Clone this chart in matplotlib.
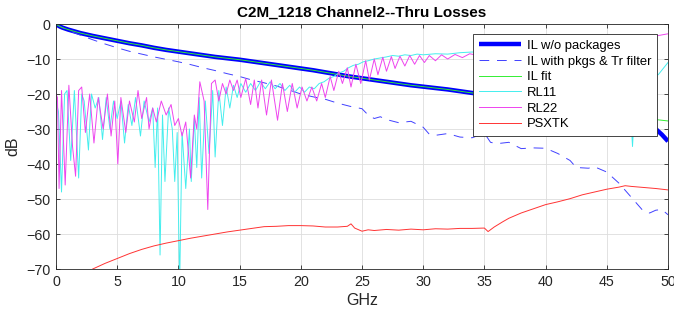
import matplotlib
matplotlib.use("Agg")
import matplotlib.pyplot as plt
import numpy as np

plt.rcParams['font.family'] = ['Liberation Sans', 'DejaVu Sans']

# ---------------- data ----------------
il_f = [0, 0.25, 0.5, 1, 2, 3, 4, 5, 6, 7, 8, 9, 10, 11, 12, 13, 14, 15, 16, 17, 18, 19,
        20, 21, 22, 23, 24, 25, 26, 27, 28, 29, 30, 31, 32, 33, 34, 35, 36, 37, 38, 39,
        40, 41, 42, 43, 44, 45, 46, 47, 48, 49, 49.5, 50]
il_db = [0, -0.6, -1.0, -1.6, -2.6, -3.4, -4.1, -4.8, -5.5, -6.1, -6.8, -7.4, -7.9, -8.4,
         -8.9, -9.4, -9.8, -10.2, -10.7, -11.2, -11.7, -12.2, -12.7, -13.2, -13.8, -14.4,
         -15.0, -15.5, -16.0, -16.5, -17.0, -17.5, -17.9, -18.3, -18.7, -19.2, -19.7, -20.1,
         -20.6, -21.1, -21.6, -22.1, -22.6, -23.1, -23.6, -24.1, -24.6, -25.2, -25.8, -26.6,
         -27.8, -30.0, -31.6, -33.5]

ilfit_f = [0, 0.25, 0.5, 1, 2, 3, 4, 5, 6, 7, 8, 9, 10, 11, 12, 13, 14, 15, 16, 17, 18, 19,
           20, 21, 22, 23, 24, 25, 26, 27, 28, 29, 30, 31, 32, 33, 34, 35, 36, 37, 38, 39,
           40, 41, 42, 43, 44, 45, 46, 47, 48, 49, 50]
ilfit_db = [0, -0.6, -1.0, -1.6, -2.6, -3.4, -4.1, -4.8, -5.5, -6.1, -6.8, -7.4, -7.9, -8.4,
            -8.9, -9.4, -9.8, -10.2, -10.7, -11.2, -11.7, -12.2, -12.7, -13.2, -13.8, -14.4,
            -15.0, -15.5, -16.0, -16.5, -17.0, -17.5, -17.9, -18.3, -18.7, -19.2, -19.7, -20.1,
            -20.6, -21.1, -21.6, -22.1, -22.6, -23.1, -23.6, -24.1, -24.6, -25.2, -25.8, -26.4,
            -26.9, -27.3, -27.7]

pkg_f = [0, 0.5, 1, 2, 3, 4, 5, 6, 7, 8, 9, 10, 11, 12, 13, 14, 15, 16, 17, 18, 19, 20, 21,
         22, 23, 24, 25, 25.5, 26, 26.5, 27, 28, 29, 30, 30.5, 31, 32, 33, 34, 35, 35.5, 36,
         37, 38, 39, 40, 41, 42, 42.5, 43.5, 44, 45, 46, 47, 47.5, 48, 48.5, 49, 49.5, 50]
pkg_db = [0, -1.0, -1.8, -3.2, -4.5, -5.7, -6.8, -7.8, -8.6, -9.4, -10.1, -10.8, -11.6, -12.5,
          -13.3, -14.2, -15.0, -16.0, -16.8, -17.7, -18.8, -20.0, -20.8, -21.5, -22.6, -23.5,
          -24.2, -26.0, -27.0, -26.5, -27.3, -28.2, -27.8, -29.5, -31.5, -31.8, -31.3, -32.3,
          -32.5, -31.2, -33.8, -34.2, -33.8, -35.6, -35.4, -35.5, -37.0, -39.0, -41.0, -41.2,
          -40.8, -42.3, -45.5, -49.5, -51.5, -53.5, -54.0, -53.2, -53.0, -54.5]

rl11_f = [0, 0.2, 0.45, 0.7, 0.9, 1.2, 1.5, 1.85, 2.1, 2.3, 2.65, 2.9, 3.2, 3.5, 3.8, 4.1,
          4.4, 4.7, 5.0, 5.3, 5.6, 5.9, 6.2, 6.5, 6.9, 7.2, 7.6, 7.9, 8.1, 8.3, 8.5, 8.7, 8.9,
          9.2, 9.5, 9.7, 9.9, 10.1, 10.3, 10.6, 10.9, 11.05, 11.3, 11.5, 11.7, 11.9, 12.2,
          12.5, 12.8, 13.0, 13.3, 13.6, 13.9, 14.2, 14.5, 14.8, 15.1, 15.5, 15.9, 16.3, 16.7,
          17.1, 17.5, 17.9, 18.3, 18.7, 19.1, 19.5, 19.9, 20.3, 20.7, 21.1, 21.5, 21.9, 22.3,
          22.7, 23.1, 23.5, 23.9, 24.3, 24.7, 25.1, 25.5, 26.0, 26.5, 27.0, 27.5, 28.0, 28.5,
          29.0, 29.5, 30.0, 31.0, 32.0, 33.0, 34.0, 36.0, 38.0, 40.0, 42.0, 44.0, 46.0, 46.8,
          47.1, 47.4, 48.2, 49.2, 50.0]
rl11_db = [-22, -25, -48, -20, -19, -39, -19, -44, -20, -22, -36, -20, -24, -21, -33, -21,
           -30, -22, -27, -22, -34, -23, -29, -21, -32, -22, -28, -24, -41, -24, -66, -26, -45,
           -24, -30, -45, -31, -75, -31, -47, -30, -45, -27, -41, -21, -44, -22,
           -37, -19, -38, -19, -29, -18, -24, -17.5, -21, -17, -19.5, -17, -19, -16.5,
           -18.5, -16.5, -18.5, -17, -19, -17.5, -19.5, -18, -19.5, -18, -18.5, -17, -16.5, -15.5,
           -15, -14, -13.5, -12.5, -11.8, -11.5, -10.8, -10.5, -10, -9.7, -9.4, -9, -9.2, -8.8,
           -9, -8.6, -8.8, -8.5, -8.6, -8.2, -8, -8.5, -9, -9.5, -10.5, -11.5, -13, -15,
           -35, -15, -14, -14.5, -11]

rl22_f = [0, 0.12, 0.25, 0.45, 0.75, 1.05, 1.35, 1.6, 1.85, 2.1, 2.4, 2.75, 3.1, 3.45, 3.85,
          4.2, 4.5, 4.8, 5.05, 5.3, 5.7, 6.0, 6.4, 6.7, 7.0, 7.4, 7.6, 7.9, 8.2, 8.6, 9.0, 9.4,
          9.7, 10.0, 10.3, 10.6, 11.0, 11.3, 11.5, 11.75, 12.1, 12.4, 12.7, 13.0, 13.3, 13.6,
          13.9, 14.2, 14.5, 14.8, 15.1, 15.5, 15.9, 16.2, 16.5, 16.8, 17.2, 17.6, 18.1, 18.5,
          18.9, 19.3, 19.7, 20.1, 20.5, 20.9, 21.3, 21.7, 22.0, 22.4, 22.7, 23.1, 23.4, 23.8,
          24.1, 24.5, 24.9, 25.3, 25.6, 26.0, 26.3, 26.7, 27.0, 27.4, 27.7, 28.1, 28.5, 28.9,
          29.3, 29.7, 30.1, 30.5, 31.0, 31.5, 32.0, 32.6, 33.2, 33.8, 34.5, 36, 38, 40, 42, 44,
          46, 48, 49.2, 50]
rl22_db = [-20, -21, -47, -19, -46, -17.5, -35, -43.5, -19, -18, -31, -20, -34, -21, -30,
           -20, -32, -22, -40, -21, -31, -22, -28, -19, -27, -21, -30, -24, -28, -22, -26, -23,
           -29, -27, -32, -28, -44, -26, -30, -16.5, -22, -53, -17, -16, -22, -17,
           -20, -16, -19, -16, -21, -15.6, -23, -16, -24, -16, -26, -16, -27.5, -17,
           -25, -17, -24, -18, -22, -18, -22, -17, -21, -15, -19, -13.5, -17, -12.5,
           -18, -11.5, -17, -10.5, -16, -10, -14.5, -9.5, -13.5, -9.3, -12.7, -9.2, -12, -9,
           -11.5, -9, -11, -9, -10.5, -8.8, -10, -8.7, -9.6, -8.5, -9, -8, -7, -6.5, -6, -5,
           -4.5, -3.8, -3.3, -2.8]

xt_f = [2, 3, 4, 5, 6, 7, 8, 9, 10, 11, 12, 13, 14, 15, 16, 17, 18, 19, 20, 21, 22, 23, 23.8,
        24.1, 24.4, 25, 25.5, 26, 27, 28, 29, 30, 31, 32, 33, 34, 35, 35.3, 35.8, 36.5, 37,
        38, 39, 40, 41, 42, 43, 44, 45, 46, 46.5, 47, 48, 49, 50]
xt_db = [-72.5, -70, -68.4, -67, -65.6, -64.4, -63.4, -62.6, -61.9, -61.2, -60.6, -60, -59.4,
         -58.9, -58.4, -57.9, -57.8, -57.6, -57.6, -57.7, -58.0, -58.0, -57.8, -57.1, -58.3,
         -59.2, -58.8, -59.0, -58.7, -58.9, -58.6, -58.8, -58.5, -58.6, -58.4, -58.4, -58.3,
         -59.3, -58.0, -56.5, -55.5, -54.0, -52.8, -51.6, -50.8, -49.9, -48.8, -48.0, -47.2,
         -46.6, -46.2, -46.4, -46.7, -47.0, -47.4]

x_ticks = [0, 5, 10, 15, 20, 25, 30, 35, 40, 45, 50]
y_ticks = [0, -10, -20, -30, -40, -50, -60, -70]

# ---------------- figure ----------------
fig = plt.figure(figsize=(6.74, 3.15), dpi=100)
ax = fig.add_axes([0.0831, 0.146, 0.908, 0.7778])

ax.plot(il_f, il_db, color='#0000ff', lw=3.2, label='IL w/o packages', solid_capstyle='butt')
ax.plot(pkg_f, pkg_db, color='#4040ff', lw=0.7, ls=(0, (10, 8)),
        label='IL with pkgs & Tr filter')
ax.plot(ilfit_f, ilfit_db, color='#33ee33', lw=0.7, label='IL fit')
ax.plot(rl11_f, rl11_db, color='#44eeee', lw=0.7, label='RL11')
ax.plot(rl22_f, rl22_db, color='#ee44ee', lw=0.7, label='RL22')
ax.plot(xt_f, xt_db, color='#ff3333', lw=0.7, label='PSXTK')

ax.set_xlim(0, 50)
ax.set_ylim(-70, 0)
ax.set_xticks(x_ticks)
ax.set_yticks(y_ticks)
ax.grid(True, color='#dddddd', lw=0.6)
ax.set_axisbelow(True)
ax.tick_params(direction='in', top=True, right=True, length=3, width=0.6,
               labelsize=10.3, colors='#262626', pad=4)
for s in ax.spines.values():
    s.set_color('#262626')
    s.set_linewidth(0.6)

ax.set_title('C2M_1218 Channel2--Thru Losses', fontsize=11, fontweight='bold',
             color='#000000', pad=5)
ax.set_xlabel('GHz', fontsize=11.5, color='#262626', labelpad=3)
ax.set_ylabel('dB', fontsize=11.5, color='#262626', labelpad=4)

leg = ax.legend(loc='upper right', bbox_to_anchor=(0.982, 0.959), borderaxespad=0,
                fontsize=9.4, frameon=True, fancybox=False, framealpha=1,
                edgecolor='#262626', handlelength=3.2, handletextpad=0.45,
                labelspacing=0.27, borderpad=0.45)
leg.get_frame().set_linewidth(0.6)

fig.savefig('out.png', dpi=100)
